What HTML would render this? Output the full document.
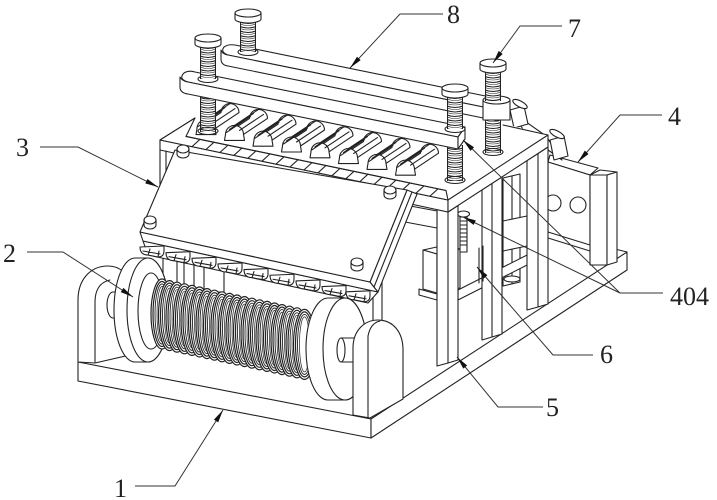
<!DOCTYPE html>
<html><head><meta charset="utf-8">
<style>
html,body{margin:0;padding:0;background:#fff;}
svg{display:block;}
text{font-family:"Liberation Serif",serif;font-size:26px;fill:#222;}
</style></head><body>
<svg width="717" height="500" viewBox="0 0 717 500" xmlns="http://www.w3.org/2000/svg">
<defs>
 <g id="ring" stroke="#222" stroke-width="1.2">
  <ellipse rx="11" ry="35" fill="#fff"/>
  <ellipse rx="9" ry="32.5" fill="none"/>
  <ellipse rx="7" ry="30" fill="none" stroke-width="0.9"/>
  <ellipse rx="5" ry="27.5" fill="none" stroke-width="0.7"/>
 </g>
 <g id="thr" stroke="#222">
  <rect x="0.5" y="0" width="15" height="50" fill="#fff" stroke-width="1.1"/>
  <path fill="none" stroke-width="1.1" d="M0,3 Q8,6 16,3 M0,7.5 Q8,10.5 16,7.5 M0,12 Q8,15 16,12 M0,16.5 Q8,19.5 16,16.5 M0,21 Q8,24 16,21 M0,25.5 Q8,28.5 16,25.5 M0,30 Q8,33 16,30 M0,34.5 Q8,37.5 16,34.5 M0,39 Q8,42 16,39 M0,43.5 Q8,46.5 16,43.5 M0,48 Q8,51 16,48"/>
  <path fill="none" stroke-width="0.6" d="M0,5 Q8,8 16,5 M0,9.5 Q8,12.5 16,9.5 M0,14 Q8,17 16,14 M0,18.5 Q8,21.5 16,18.5 M0,23 Q8,26 16,23 M0,27.5 Q8,30.5 16,27.5 M0,32 Q8,35 16,32 M0,36.5 Q8,39.5 16,36.5 M0,41 Q8,44 16,41 M0,45.5 Q8,48.5 16,45.5"/>
 </g>
 <g id="cap" stroke="#222" stroke-width="1.1" fill="#fff">
  <path d="M-13,0 L-13,6 A13,4 0 0 0 13,6 L13,0 Z"/>
  <ellipse rx="13" ry="4"/>
 </g>
 <g id="bolt" stroke="#222" stroke-width="1.1" fill="#fff">
  <path d="M-6,-3 L-6,2 A6,4 0 0 0 6,2 L6,-3 Z"/>
  <ellipse cy="-3" rx="6" ry="4"/>
 </g>
 <g id="rl" stroke="#222" stroke-width="1.1" fill="#fff">
  <path d="M-9,5 A9,9 0 0 1 9,5 L-15,21 L-33,21 Z"/>
  <path d="M-33,21 A9,9 0 0 1 -15,21 L-14,27 L-34,27 Z"/>
  <path d="M0,-4 L-24,12 M-5,0 L-29,16 M5,1 L-19,17 M-8,3 L-32,19" fill="none"/>
 </g>
 <g id="lc" stroke="#222" stroke-width="1.1" fill="#fff">
  <path d="M-12,0 Q-12,8 -4,8 L6,10 Q12,10 12,4 L12,-1 Z"/>
  <path d="M-4,8 L-2,2 M6,10 L7,4 M-9,4 L8,7" fill="none"/>
 </g>
 <path id="zz" d="M0,0 L-8,7.3" stroke="#222" stroke-width="1.1" fill="none"/>
</defs>

<g stroke="#222" stroke-width="1.1" fill="#fff" stroke-linejoin="round" stroke-linecap="round">

<!-- base plate -->
<polygon points="78,362 371,419 371,438 78,381"/>
<polygon points="371,419 627,252 627,270 371,438"/>
<line x1="627" y1="252" x2="611" y2="248"/>

<!-- component 4 -->
<polygon points="550,155 598,168 590,175 548,162"/>
<polygon points="548,162 590,175 590,245 548,232"/>
<line x1="548" y1="238" x2="590" y2="251"/>
<circle cx="553" cy="203" r="8"/>
<circle cx="578" cy="205" r="8"/>
<polygon points="590,175 600,170 617,172 607,175"/>
<polygon points="590,175 607,175 607,265 590,265"/>
<polygon points="607,175 617,172 617,262 607,265"/>

<!-- tilted bracket -->
<polygon points="512,112 546,136 562,160 526,134"/>
<polygon points="510,110 524,106 528,124 514,128"/>
<ellipse cx="520" cy="104" rx="8" ry="3" transform="rotate(28 520 104)"/>
<polygon points="550,140 564,136 568,156 554,160"/>
<ellipse cx="557" cy="134" rx="8" ry="3" transform="rotate(28 557 134)"/>

<!-- rear post and box -->
<polygon points="503,178 520,174 520,282 503,286"/>
<line x1="512" y1="176" x2="512" y2="284"/>
<ellipse cx="512" cy="279" rx="8" ry="3"/>
<polygon points="503,221 527,216 527,246 503,251"/>

<!-- cross bar -->
<polygon points="458,290 537,250 537,260 458,300"/>

<!-- post C -->
<polygon points="527,160.6 538,153.5 548,147 548,304 538,307 527,310"/>
<line x1="538" y1="153.5" x2="538" y2="307"/>
<!-- post B -->
<polygon points="482,189.9 492,183.4 502,176.9 502,334 492,337 482,340"/>
<line x1="492" y1="183.4" x2="492" y2="337"/>

<!-- motor -->
<polygon points="423,250 446,245 460,249 437,254"/>
<polygon points="423,250 437,254 437,293 423,289"/>
<polygon points="437,254 460,249 460,288 437,293"/>
<polygon points="419,289 437,294 437,300 419,295"/>
<!-- lead screw -->
<rect x="460" y="212" width="7" height="40"/>
<path fill="none" d="M460,217 h7 M460,221 h7 M460,225 h7 M460,229 h7 M460,233 h7 M460,237 h7 M460,241 h7 M460,245 h7"/>
<ellipse cx="463.5" cy="214" rx="6" ry="3"/>
<path fill="none" d="M479,248 L479,283 M483,246 L483,281"/>

<!-- post A -->
<polygon points="437,209.6 448,212 458,205.5 458,360 448,363 437,366"/>
<line x1="448" y1="212" x2="448" y2="363"/>

<!-- rails between box and post A -->
<polygon points="405,205 437,211 437,228 405,222"/>
<line x1="382" y1="262" x2="382" y2="322"/>
<line x1="373" y1="290" x2="373" y2="320"/>

<!-- top plate -->
<polygon points="160,140 195,118 230,100 505,124 548,135 448,200" stroke="none"/>
<polygon points="160,140 448,200 448,212 160,150"/>
<polygon points="448,200 548,135 548,147 448,212"/>
<path fill="none" d="M160,140 L195,118 M548,135 L503,125"/>

<!-- rollers -->
<use href="#rl" x="230" y="107.6"/>
<use href="#rl" x="258.5" y="113.4"/>
<use href="#rl" x="287" y="119.2"/>
<use href="#rl" x="315.5" y="125"/>
<use href="#rl" x="344" y="130.8"/>
<use href="#rl" x="372.5" y="136.6"/>
<use href="#rl" x="401" y="142.4"/>
<use href="#rl" x="429.5" y="148.2"/>

<!-- front rail -->
<polygon points="186,136.4 446,190.5 448,200 160,140 195,118"/>
<path fill="none" d="M186,136.4 L446,190.5"/>
<use href="#zz" x="200" y="139.3"/><use href="#zz" x="214" y="142.2"/><use href="#zz" x="228" y="145.1"/>
<use href="#zz" x="242" y="148"/><use href="#zz" x="256" y="150.9"/><use href="#zz" x="270" y="153.9"/>
<use href="#zz" x="284" y="156.8"/><use href="#zz" x="298" y="159.7"/><use href="#zz" x="312" y="162.6"/>
<use href="#zz" x="326" y="165.5"/><use href="#zz" x="340" y="168.4"/><use href="#zz" x="354" y="171.3"/>
<use href="#zz" x="368" y="174.2"/><use href="#zz" x="382" y="177.2"/><use href="#zz" x="396" y="180.1"/>
<use href="#zz" x="410" y="183"/><use href="#zz" x="424" y="185.9"/><use href="#zz" x="438" y="188.8"/>

<!-- lower screw segments -->
<svg x="200" y="90" width="16" height="42"><use href="#thr"/></svg>
<svg x="447" y="145" width="16" height="36"><use href="#thr"/></svg>
<svg x="485" y="115" width="16" height="38"><use href="#thr"/></svg>
<ellipse cx="208" cy="131" rx="10" ry="3.5" fill="none"/>
<ellipse cx="455" cy="180" rx="10" ry="3.5" fill="none"/>
<ellipse cx="493" cy="152" rx="10" ry="3.5" fill="none"/>

<!-- upper bar (8) -->
<path d="M235,45 L505,100 L498,110 L228,55 Q220,52 224,47 Q228,44 235,45 Z"/>
<path d="M228,55 L498,110 L498,121 L228,66 Q221,65 221,59 L221,50 Q222,54 228,55 Z"/>
<polygon points="505,100 498,110 498,121 505,111"/>

<!-- S2 -->
<ellipse cx="248" cy="52" rx="10" ry="3.5"/>
<svg x="240" y="19" width="16" height="33"><use href="#thr"/></svg>
<use href="#cap" x="248" y="13"/>
<!-- S4 -->
<polygon points="483,100 510,100 510,120 483,120"/>
<ellipse cx="496.5" cy="100" rx="13.5" ry="4"/>
<svg x="485" y="69" width="16" height="32"><use href="#thr"/></svg>
<use href="#cap" x="493" y="63"/>

<!-- lower bar -->
<path d="M195,72 L465,127 L458,137 L188,82 Q178,79 184,73 Q189,70 195,72 Z"/>
<path d="M188,82 L458,137 L458,149 L188,94 Q180,93 180,87 L180,77 Q182,81 188,82 Z"/>
<polygon points="465,127 458,137 458,149 465,139"/>

<!-- S1 -->
<ellipse cx="208" cy="79" rx="10" ry="3.5"/>
<svg x="200" y="44" width="16" height="35"><use href="#thr"/></svg>
<use href="#cap" x="208" y="38"/>
<!-- S3 -->
<ellipse cx="455" cy="129" rx="10" ry="3.5"/>
<svg x="447" y="94" width="16" height="35"><use href="#thr"/></svg>
<use href="#cap" x="455" y="88"/>

<!-- left wall -->
<path fill="none" d="M160,150 L160,187 M166,151 L166,176"/>

<!-- blocks under panel -->
<rect x="163" y="250" width="14" height="34"/>
<rect x="184" y="254" width="10" height="34"/>
<rect x="204" y="258" width="20" height="34"/>

<!-- lower comb band -->
<polygon points="143,241 378,292 368,303 148,255"/>
<use href="#lc" x="152" y="247"/><use href="#lc" x="178" y="252.65"/><use href="#lc" x="204" y="258.3"/>
<use href="#lc" x="230" y="263.95"/><use href="#lc" x="256" y="269.6"/><use href="#lc" x="282" y="275.25"/>
<use href="#lc" x="308" y="280.9"/><use href="#lc" x="334" y="286.55"/><use href="#lc" x="358" y="291.8"/>

<!-- panel (3) -->
<polygon points="140,232 370,282 378,292 143,241"/>
<polygon points="407,190 417,194 378,292 370,282"/>
<line x1="412" y1="192" x2="374" y2="287"/>
<polygon points="175,150 407,190 370,282 140,232"/>
<use href="#bolt" x="183" y="152"/>
<use href="#bolt" x="390" y="193"/>
<use href="#bolt" x="150" y="223"/>
<use href="#bolt" x="357" y="265"/>

<!-- left support -->
<path d="M78,362 L78,300 C78,280 90,266 108,266 C120,266 128,274 130,284 L130,355 L95,363 Z"/>
<path fill="none" d="M95,362 L95,302 C95,290 100,282 110,280"/>
<!-- left stub -->
<path d="M113,292 L132,292 L132,318 L113,318 A6,13 0 0 1 113,292 Z"/>
<!-- left flange -->
<path d="M135,258 L148,258 A21,52 0 0 1 148,362 L135,362 A21,52 0 0 1 135,258 Z"/>
<ellipse cx="148" cy="310" rx="21" ry="52"/>
<ellipse cx="151" cy="311" rx="13" ry="38" fill="none"/>

<!-- coil -->
<use href="#ring" x="162" y="314"/>
<use href="#ring" x="169.5" y="315.6"/>
<use href="#ring" x="177" y="317.2"/>
<use href="#ring" x="184.5" y="318.8"/>
<use href="#ring" x="192" y="320.4"/>
<use href="#ring" x="199.5" y="322"/>
<use href="#ring" x="207" y="323.6"/>
<use href="#ring" x="214.5" y="325.2"/>
<use href="#ring" x="222" y="326.8"/>
<use href="#ring" x="229.5" y="328.4"/>
<use href="#ring" x="237" y="330"/>
<use href="#ring" x="244.5" y="331.6"/>
<use href="#ring" x="252" y="333.2"/>
<use href="#ring" x="259.5" y="334.8"/>
<use href="#ring" x="267" y="336.4"/>
<use href="#ring" x="274.5" y="338"/>
<use href="#ring" x="282" y="339.6"/>
<use href="#ring" x="289.5" y="341.2"/>
<use href="#ring" x="297" y="342.8"/>
<use href="#ring" x="304.5" y="344.4"/>

<!-- right flange -->
<path d="M328,298 L345,298 A22,51 0 0 1 345,400 L328,400 A22,51 0 0 1 328,298 Z"/>
<ellipse cx="345" cy="349" rx="22" ry="51"/>
<!-- right stub -->
<path d="M341,338 L358,338 L358,362 L341,362 Z"/>
<ellipse cx="341" cy="350" rx="4" ry="12"/>
<!-- right support -->
<path d="M353,415 L353,348 C353,331 364,320 378,320 C393,320 403,332 403,350 L403,399 L370,418 Z"/>
<path fill="none" d="M368,418 L368,336 C370,326 375,322 380,321"/>

</g>

<!-- leaders -->
<g stroke="#333" stroke-width="1" fill="none">
<path d="M135,486 L175,486 L223,410"/>
<path d="M27,252 L63,252 L133,297"/>
<path d="M40,147 L78,147 L158,187"/>
<path d="M662,115 L620,115 L578,162"/>
<path d="M543,407 L498,407 L457,357"/>
<path d="M593,355 L553,355 L477,267"/>
<path d="M562,26 L520,26 L493,63"/>
<path d="M443,14 L400,14 L350,68"/>
<path d="M663,293 L620,293 L463,140 M620,293 L463,217"/>
</g>
<g fill="#111" stroke="none">
<polygon points="223,410 218.17,422.33 213.95,419.65"/>
<polygon points="133,297 120.72,292.07 123.42,287.87"/>
<polygon points="158,187 145.25,183.43 147.49,178.95"/>
<polygon points="578,162 584.8,150.63 588.54,153.97"/>
<polygon points="457,357 467.17,365.46 463.31,368.64"/>
<polygon points="477,267 487.39,275.2 483.61,278.48"/>
<polygon points="493,63 498.64,51.03 502.68,53.97"/>
<polygon points="350,68 356.99,56.76 360.67,60.16"/>
<polygon points="463,140 474.06,147.28 470.56,150.86"/>
<polygon points="463,217 475.79,220.42 473.61,224.92"/>
</g>

<!-- labels -->
<text x="114" y="497">1</text>
<text x="3" y="262">2</text>
<text x="16" y="156">3</text>
<text x="668" y="125">4</text>
<text x="546" y="416">5</text>
<text x="600" y="363">6</text>
<text x="568" y="37">7</text>
<text x="447" y="23">8</text>
<text x="670" y="305">404</text>
</svg>
</body></html>
